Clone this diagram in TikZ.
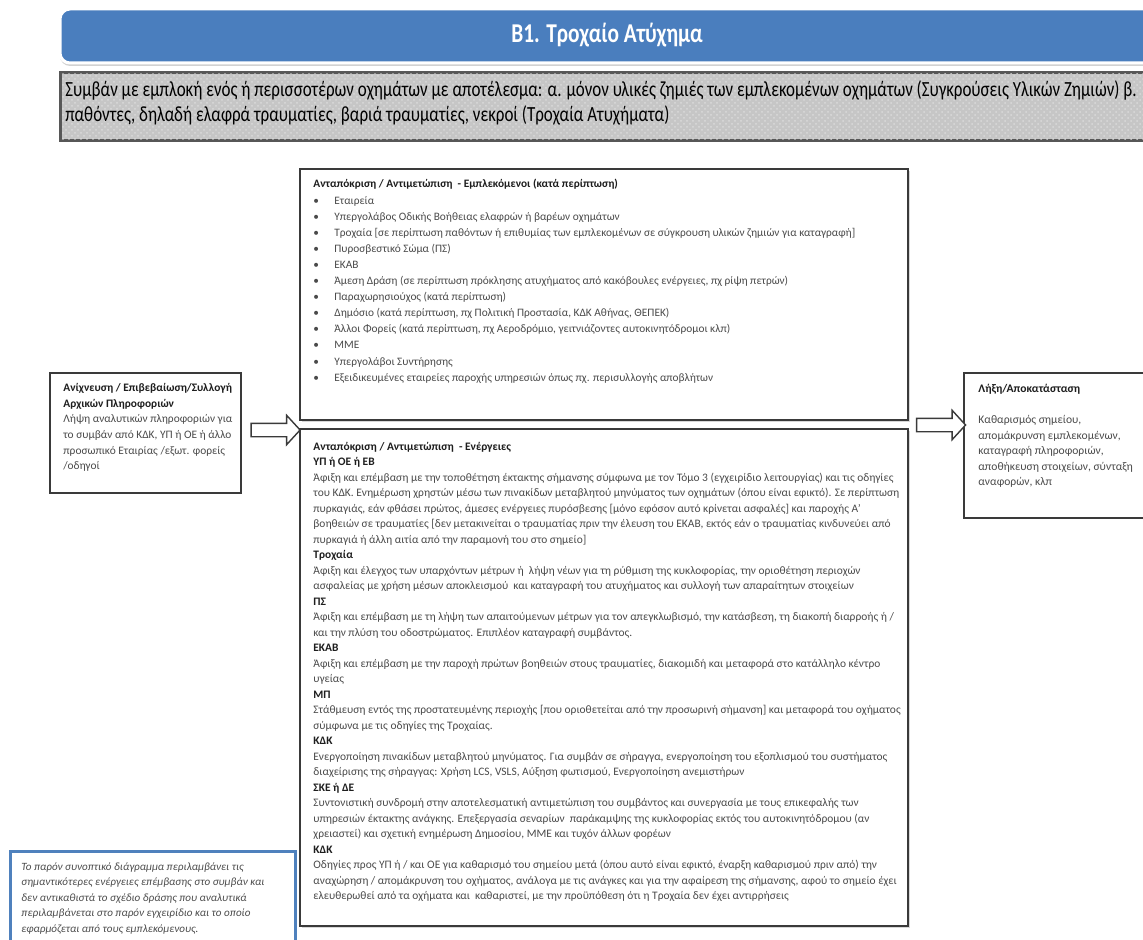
\documentclass[tikz,border=0pt]{standalone}
\usepackage{fontspec}
\setmainfont{Carlito}
\newfontfamily\condfont[FakeStretch=0.785]{Carlito}
\usetikzlibrary{fit,shapes.arrows,shadows,patterns}
\definecolor{txtgray}{HTML}{4A4A4A}
\definecolor{hdr}{HTML}{1E1E1E}
\definecolor{bannerblue}{HTML}{4A7EBE}
\definecolor{descfill}{HTML}{C6C6C6}
\definecolor{boxline}{HTML}{3A3A3A}
\definecolor{noteblue}{HTML}{4F81BD}
\newcommand{\bodyfs}{\fontsize{5.72}{7.75}\selectfont}
\newcommand{\hd}[1]{\textbf{\color{hdr}#1}}
\newcommand{\itm}[1]{\makebox[10.5pt][l]{\textbullet}#1}
\begin{document}
\begin{tikzpicture}[x=0.5pt,y=-0.5pt,
  panel/.style={draw=boxline, line width=0.7pt, fill=white, inner sep=0pt},
  shpanel/.style={panel, drop shadow={shadow xshift=0.8pt, shadow yshift=-0.8pt, opacity=0.3}},
  txt/.style={anchor=base west, inner sep=0pt, text=txtgray},
  blockarrow/.style={single arrow, draw=boxline, fill=white, line width=0.7pt,
    minimum height=24.5pt, single arrow head extend=4pt, inner xsep=0pt, inner ysep=3pt,
    single arrow tip angle=95}
]
\clip (0,0) rectangle (1143,940);
\fill[white] (0,0) rectangle (1143,940);

% banner
\node[fit={(60,9) (1175,63)}, inner sep=0pt, rounded corners=5pt, fill=bannerblue,
  draw=white, line width=1.5pt,
  drop shadow={shadow xshift=0pt, shadow yshift=-1.5pt, opacity=0.35}] (banner) {};
\node[text=white, font=\condfont\bfseries\fontsize{13.6}{15}\selectfont, anchor=base] (title) at (607,43) {B1. Τροχαίο Ατύχημα};

% description
\node[fit={(61,73) (1175,140)}, inner sep=0pt, draw=boxline!85, line width=0.9pt, fill=descfill,
  drop shadow={shadow xshift=0pt, shadow yshift=-1.2pt, opacity=0.35}] (desc) {};
\fill[pattern=crosshatch dots, pattern color=white!35!descfill] (desc.north west) rectangle (desc.south east);
\draw[boxline!85, line width=0.9pt] (desc.north west) rectangle (desc.south east);
\node[anchor=base west, inner sep=0pt, text=black, font=\condfont\fontsize{10.8}{12.5}\selectfont] (desctext) at (65,97)
 {\parbox[t]{700pt}{Συμβάν με εμπλοκή ενός ή περισσοτέρων οχημάτων με αποτέλεσμα: α. μόνον υλικές ζημιές των εμπλεκομένων οχημάτων (Συγκρούσεις Υλικών Ζημιών) β.\\
 παθόντες, δηλαδή ελαφρά τραυματίες, βαριά τραυματίες, νεκροί (Τροχαία Ατυχήματα)}};

% panels
\node[panel, fit={(50,373) (241,493)}] (leftbox) {};
\node[shpanel, fit={(300,169) (908,420)}] (midtop) {};
\node[shpanel, fit={(300,429) (908,926)}] (midbot) {};
\node[panel, fit={(964,373) (1170,518)}] (rightbox) {};
\node[draw=noteblue, line width=1.5pt, fill=white, inner sep=0pt, fit={(10,851) (295,965)}] (notebox) {};

% block arrows
\node[blockarrow] (arr1) at (272.5,430) {};
\node[blockarrow] (arr2) at (938,425) {};

% left text
\node[txt] (lefttext) at (63,392) {\parbox[t]{200pt}{\fontsize{5.7}{7.75}\selectfont
\hd{Ανίχνευση / Επιβεβαίωση/Συλλογή}\\
\hd{Αρχικών Πληροφοριών}\\
Λήψη αναλυτικών πληροφοριών για\\
το συμβάν από ΚΔΚ, ΥΠ ή ΟΕ ή άλλο\\
προσωπικό Εταιρίας /εξωτ. φορείς\\
/οδηγοί}};

% top middle text
\node[txt] (toptext) at (313,188) {\parbox[t]{400pt}{\fontsize{5.67}{8.05}\selectfont
\hd{Ανταπόκριση / Αντιμετώπιση\ \ - Εμπλεκόμενοι (κατά περίπτωση)}\\
\itm{Εταιρεία}\\
\itm{Υπεργολάβος Οδικής Βοήθειας ελαφρών ή βαρέων οχημάτων}\\
\itm{Τροχαία [σε περίπτωση παθόντων ή επιθυμίας των εμπλεκομένων σε σύγκρουση υλικών ζημιών για καταγραφή]}\\
\itm{Πυροσβεστικό Σώμα (ΠΣ)}\\
\itm{ΕΚΑΒ}\\
\itm{Άμεση Δράση (σε περίπτωση πρόκλησης ατυχήματος από κακόβουλες ενέργειες, πχ ρίψη πετρών)}\\
\itm{Παραχωρησιούχος (κατά περίπτωση)}\\
\itm{Δημόσιο (κατά περίπτωση, πχ Πολιτική Προστασία, ΚΔΚ Αθήνας, ΘΕΠΕΚ)}\\
\itm{Άλλοι Φορείς (κατά περίπτωση, πχ Αεροδρόμιο, γειτνιάζοντες αυτοκινητόδρομοι κλπ)}\\
\itm{ΜΜΕ}\\
\itm{Υπεργολάβοι Συντήρησης}\\
\itm{Εξειδικευμένες εταιρείες παροχής υπηρεσιών όπως πχ. περισυλλογής αποβλήτων}}};

% bottom middle text
\node[txt] (bottext) at (313,450) {\parbox[t]{400pt}{\bodyfs
\hd{Ανταπόκριση / Αντιμετώπιση\ \ - Ενέργειες}\\
\hd{ΥΠ ή ΟΕ ή ΕΒ}\\
Άφιξη και επέμβαση με την τοποθέτηση έκτακτης σήμανσης σύμφωνα με τον Τόμο 3 (εγχειρίδιο λειτουργίας) και τις οδηγίες\\
του ΚΔΚ. Ενημέρωση χρηστών μέσω των πινακίδων μεταβλητού μηνύματος των οχημάτων (όπου είναι εφικτό). Σε περίπτωση\\
πυρκαγιάς, εάν φθάσει πρώτος, άμεσες ενέργειες πυρόσβεσης [μόνο εφόσον αυτό κρίνεται ασφαλές] και παροχής Α’\\
βοηθειών σε τραυματίες [δεν μετακινείται ο τραυματίας πριν την έλευση του ΕΚΑΒ, εκτός εάν ο τραυματίας κινδυνεύει από\\
πυρκαγιά ή άλλη αιτία από την παραμονή του στο σημείο]\\
\hd{Τροχαία}\\
Άφιξη και έλεγχος των υπαρχόντων μέτρων ή\ \ λήψη νέων για τη ρύθμιση της κυκλοφορίας, την οριοθέτηση περιοχών\\
ασφαλείας με χρήση μέσων αποκλεισμού\ \ και καταγραφή του ατυχήματος και συλλογή των απαραίτητων στοιχείων\\
\hd{ΠΣ}\\
Άφιξη και επέμβαση με τη λήψη των απαιτούμενων μέτρων για τον απεγκλωβισμό, την κατάσβεση, τη διακοπή διαρροής ή /\\
και την πλύση του οδοστρώματος. Επιπλέον καταγραφή συμβάντος.\\
\hd{ΕΚΑΒ}\\
Άφιξη και επέμβαση με την παροχή πρώτων βοηθειών στους τραυματίες, διακομιδή και μεταφορά στο κατάλληλο κέντρο\\
υγείας\\
\hd{ΜΠ}\\
Στάθμευση εντός της προστατευμένης περιοχής [που οριοθετείται από την προσωρινή σήμανση] και μεταφορά του οχήματος\\
σύμφωνα με τις οδηγίες της Τροχαίας.\\
\hd{ΚΔΚ}\\
Ενεργοποίηση πινακίδων μεταβλητού μηνύματος. Για συμβάν σε σήραγγα, ενεργοποίηση του εξοπλισμού του συστήματος\\
διαχείρισης της σήραγγας: Χρήση LCS, VSLS, Αύξηση φωτισμού, Ενεργοποίηση ανεμιστήρων\\
\hd{ΣΚΕ ή ΔΕ}\\
Συντονιστική συνδρομή στην αποτελεσματική αντιμετώπιση του συμβάντος και συνεργασία με τους επικεφαλής των\\
υπηρεσιών έκτακτης ανάγκης. Επεξεργασία σεναρίων\ \ παράκαμψης της κυκλοφορίας εκτός του αυτοκινητόδρομου (αν\\
χρειαστεί) και σχετική ενημέρωση Δημοσίου, ΜΜΕ και τυχόν άλλων φορέων\\
\hd{ΚΔΚ}\\
Οδηγίες προς ΥΠ ή / και ΟΕ για καθαρισμό του σημείου μετά (όπου αυτό είναι εφικτό, έναρξη καθαρισμού πριν από) την\\
αναχώρηση / απομάκρυνση του οχήματος, ανάλογα με τις ανάγκες και για την αφαίρεση της σήμανσης, αφού το σημείο έχει\\
ελευθερωθεί από τα οχήματα και\ \ καθαριστεί, με την προϋπόθεση ότι η Τροχαία δεν έχει αντιρρήσεις}};

% right text
\node[txt] (righttext) at (978,393) {\parbox[t]{200pt}{\fontsize{5.8}{7.75}\selectfont
\hd{Λήξη/Αποκατάσταση}\\[7.75pt]
Καθαρισμός σημείου,\\
απομάκρυνση εμπλεκομένων,\\
καταγραφή πληροφοριών,\\
αποθήκευση στοιχείων, σύνταξη\\
αναφορών, κλπ}};

% note text
\node[txt] (notetext) at (21,870) {\parbox[t]{200pt}{\fontsize{5.55}{7.75}\selectfont\itshape
Το παρόν συνοπτικό διάγραμμα περιλαμβάνει τις\\
σημαντικότερες ενέργειες επέμβασης στο συμβάν και\\
δεν αντικαθιστά το σχέδιο δράσης που αναλυτικά\\
περιλαμβάνεται στο παρόν εγχειρίδιο και το οποίο\\
εφαρμόζεται από τους εμπλεκόμενους.}};
\end{tikzpicture}
\end{document}
